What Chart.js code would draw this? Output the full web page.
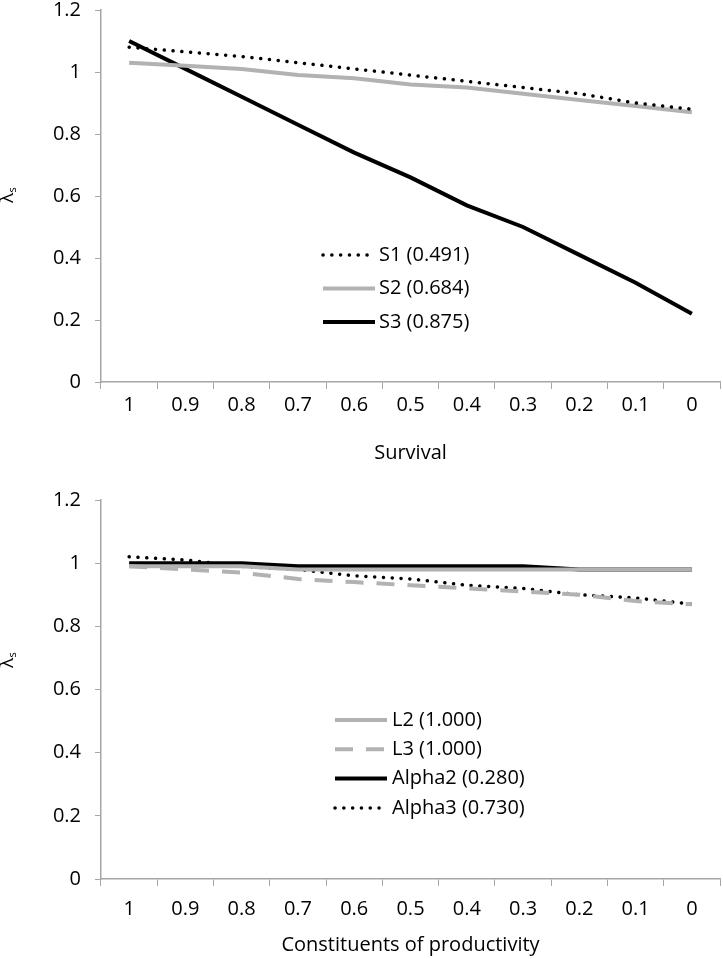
<!DOCTYPE html>
<html>
<head>
    <meta charset="utf-8">
    <title>Lambda s sensitivity</title>
    <script src="https://cdn.jsdelivr.net/npm/chart.js"></script>
    <style>
        body { margin: 0; background: #fff; }
        .box { position: relative; width: 723px; }
    </style>
</head>
<body>
    <div class="box" style="height:470px"><canvas id="top"></canvas></div>
    <div class="box" style="height:489px"><canvas id="bottom"></canvas></div>

    <script>
        // x categories (same on both panels)
        var levels = ['1', '0.9', '0.8', '0.7', '0.6', '0.5', '0.4', '0.3', '0.2', '0.1', '0'];

        // top panel: survival
        var s1 = [1.08, 1.065, 1.05, 1.03, 1.01, 0.99, 0.97, 0.95, 0.93, 0.90, 0.88];
        var s2 = [1.03, 1.02, 1.01, 0.99, 0.98, 0.96, 0.95, 0.93, 0.91, 0.89, 0.87];
        var s3 = [1.10, 1.01, 0.92, 0.83, 0.74, 0.66, 0.57, 0.50, 0.41, 0.32, 0.22];

        // bottom panel: constituents of productivity
        var l2 = [0.99, 0.99, 0.99, 0.98, 0.98, 0.98, 0.98, 0.98, 0.98, 0.98, 0.98];
        var l3 = [0.99, 0.98, 0.97, 0.95, 0.94, 0.93, 0.92, 0.91, 0.90, 0.88, 0.87];
        var alpha2 = [1.00, 1.00, 1.00, 0.99, 0.99, 0.99, 0.99, 0.99, 0.98, 0.98, 0.98];
        var alpha3 = [1.02, 1.01, 0.99, 0.98, 0.96, 0.95, 0.93, 0.92, 0.90, 0.89, 0.87];

        var FONT = '"Open Sans", "Noto Sans", sans-serif';
        var GRAY = '#b2b2b2';
        var AXIS = '#a6a6a6';
        var DOTS = [0.1, 8.7];

        function line(label, data, color, dash, width) {
            return {
                label: label,
                data: data,
                borderColor: color,
                borderWidth: width || 4,
                borderDash: dash || [],
                borderCapStyle: dash && dash[0] < 1 ? 'round' : 'butt',
                pointRadius: 0,
                tension: 0,
                fill: false
            };
        }

        // legend drawn inside the plot + the rotated lambda-s axis label
        var extras = {
            id: 'extras',
            afterDatasetsDraw: function (chart, args, opts) {
                var ctx = chart.ctx;
                ctx.save();
                ctx.font = '20px ' + FONT;
                ctx.textBaseline = 'middle';
                chart.data.datasets.forEach(function (ds, i) {
                    var y = opts.y + i * opts.row;
                    ctx.strokeStyle = ds.borderColor;
                    ctx.lineWidth = ds.borderWidth;
                    ctx.setLineDash(ds.borderDash);
                    ctx.lineCap = ds.borderCapStyle;
                    ctx.beginPath();
                    ctx.moveTo(opts.x, y);
                    ctx.lineTo(opts.x + opts.len, y);
                    ctx.stroke();
                    ctx.setLineDash([]);
                    ctx.fillStyle = '#000';
                    ctx.fillText(ds.label, opts.x + opts.len + opts.gap, y);
                });
                // y title: lambda with subscript s
                ctx.translate(opts.titleX, opts.titleY);
                ctx.rotate(-Math.PI / 2);
                ctx.textAlign = 'center';
                ctx.font = '19px ' + FONT;
                ctx.fillText('λ', -3, 0);
                ctx.font = '11px ' + FONT;
                ctx.fillText('s', 5, 5);
                ctx.restore();
            }
        };

        function makeChart(id, datasets, xTitle, padTop, xHeight, labelPad, titlePad, extraOpts) {
            return new Chart(document.getElementById(id), {
                type: 'line',
                data: { labels: levels, datasets: datasets },
                plugins: [extras],
                options: {
                    responsive: true,
                    maintainAspectRatio: false,
                    animation: false,
                    layout: { padding: { top: padTop, right: 3, left: 0, bottom: 0 } },
                    plugins: {
                        legend: { display: false },
                        tooltip: { enabled: false },
                        extras: extraOpts
                    },
                    scales: {
                        x: {
                            offset: true,
                            grid: { offset: true, drawOnChartArea: false, drawTicks: true, tickLength: 7, color: AXIS },
                            border: { color: AXIS, width: 1.5 },
                            ticks: { color: '#000', font: { family: FONT, size: 20 }, padding: labelPad, maxRotation: 0 },
                            title: { display: true, text: xTitle, color: '#000', font: { family: FONT, size: 20 }, padding: { top: 0, bottom: titlePad } },
                            afterFit: function (s) { s.height = xHeight; }
                        },
                        y: {
                            min: 0,
                            max: 1.2,
                            grid: { drawOnChartArea: false, drawTicks: true, tickLength: 6, color: AXIS },
                            border: { color: AXIS, width: 1.5 },
                            ticks: {
                                stepSize: 0.2,
                                color: '#000',
                                font: { family: FONT, size: 20 },
                                padding: 14,
                                callback: function (v) { return String(Number(v.toFixed(1))); }
                            },
                            afterFit: function (s) {
                                s.width = 101;
                                s.paddingTop = 0;
                                s.paddingBottom = 0;
                            }
                        }
                    }
                }
            });
        }

        makeChart('top', [
            line('S1 (0.491)', s1, '#000', DOTS, 3.5),
            line('S2 (0.684)', s2, GRAY, [], 4),
            line('S3 (0.875)', s3, '#000', [], 4)
        ], 'Survival', 10, 88, 4, 5,
            { x: 323, y: 255, row: 33.5, len: 52, gap: 4, titleX: 8, titleY: 195 });

        makeChart('bottom', [
            line('L2 (1.000)', l2, GRAY, [], 4),
            line('L3 (1.000)', l3, GRAY, [18, 13], 4),
            line('Alpha2 (0.280)', alpha2, '#000', [], 4),
            line('Alpha3 (0.730)', alpha3, '#000', DOTS, 3.5)
        ], 'Constituents of productivity', 30, 80, 11, 2,
            { x: 335, y: 250, row: 29.3, len: 52, gap: 5, titleX: 8, titleY: 190 });
    </script>
</body>
</html>
